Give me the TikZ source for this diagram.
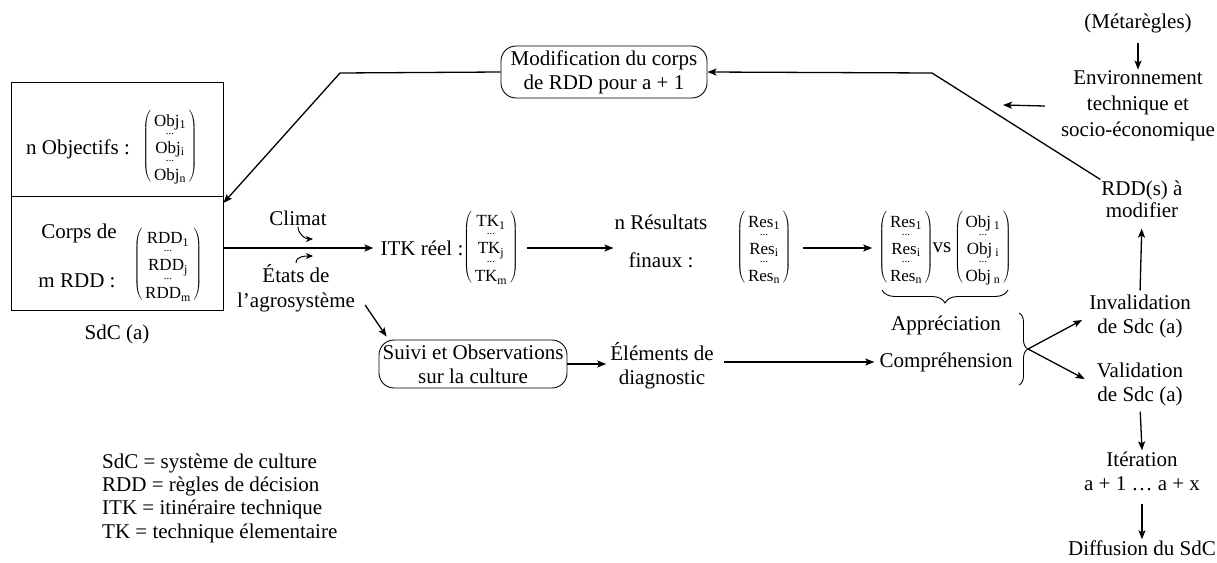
\documentclass[tikz,border=0pt]{standalone}
\usepackage{fontspec}
\setmainfont{Liberation Serif}
\usetikzlibrary{arrows.meta,decorations.pathreplacing,positioning,calc}

\newcommand{\txtrow}[2]{\rule[-4pt]{0pt}{20pt}#1\textsubscript{#2}}
\newcommand{\dotrow}{\rule[-3pt]{0pt}{7pt}{\fontsize{11}{11}\selectfont ...}}
\newcommand{\colvec}[4]{$\left(\hbox{\fontsize{17}{14}\selectfont\renewcommand\arraystretch{0}%
  \begin{tabular}{@{\,}c@{\,}}\txtrow{#1}{#2}\\\dotrow\\\txtrow{#1}{#3}\\\dotrow\\\txtrow{#1}{#4}\end{tabular}}\right)$}

\begin{document}
\begin{tikzpicture}[x=1pt,y=-1pt,
  every node/.style={font=\fontsize{21}{24}\selectfont, inner sep=1pt, align=center},
  arr/.style={-{Stealth[length=9pt,width=7pt,inset=2pt]}, line width=1.3pt},
  arrsmall/.style={-{Stealth[length=7pt,width=6pt,inset=2pt]}, line width=1pt},
  roundbox/.style={draw, rounded corners=15pt, line width=0.9pt},
  bracket/.style={decorate, line width=0.9pt}]
\useasboundingbox (0,0) rectangle (1217,562);

% SdC block
\node[draw, line width=0.9pt, minimum width=212pt, minimum height=228pt] (sdc) at (117,196) {};
\draw[line width=0.9pt] (sdc.west) -- (sdc.east);
\node (objlab) at (78,149) {n Objectifs :};
\node (objvec) at (170,147) {\colvec{Obj}{1}{i}{n}};
\node (corps) at (79,233) {Corps de};
\node (mrdd) at (77,281) {m RDD :};
\node (rddvec) at (168,265) {\colvec{RDD}{1}{j}{m}};
\node (sdclab) at (117,334) {SdC (a)};

% top loop
\node[roundbox, minimum width=206pt, minimum height=52pt] (modif) at (604,72) {Modification du corps\\de RDD pour a + 1};
\node (meta) at (1138,23) {(Métarègles)};
\node[font=\fontsize{21}{26}\selectfont] (env) at (1138,106) {Environnement\\technique et\\socio-économique};
\node[font=\fontsize{21}{22}\selectfont] (rddmod) at (1142,199) {RDD(s) à\\modifier};
\coordinate (envto) at (1003,105);
\coordinate (bendr) at (932,73);
\coordinate (bendl) at (340,73);

% middle row
\node (climat) at (298,218) {Climat};
\node[font=\fontsize{21}{25}\selectfont] (etats) at (296,288) {États de\\l’agrosystème};
\node (itk) at (422,248) {ITK réel :};
\node (itkvec) at (491,248) {\colvec{TK}{1}{j}{m}};
\node (resl) at (661,241) {n Résultats\\[14pt]finaux :};
\node (resvec) at (764,248) {\colvec{Res}{1}{i}{n}};
\node (cmpres) at (906,248) {\colvec{Res}{1}{i}{n}};
\node (vs) at (942,248) {vs};
\node (cmpobj) at (983,248) {\colvec{Obj\,}{1}{i}{n}};
\coordinate (climtip) at (313,239);
\coordinate (etatip) at (313,256);

% lower row
\node[roundbox, minimum width=188pt, minimum height=48pt] (suivi) at (473,364) {Suivi et Observations\\sur la culture};
\node (elem) at (662,366) {Éléments de\\diagnostic};
\node (apprec) at (946,325) {Appréciation};
\node (compr) at (946,362) {Compréhension};
\coordinate (bracetip) at (1028,349);

% right column
\node (invalid) at (1140,316) {Invalidation\\de Sdc (a)};
\node (valid) at (1140,384) {Validation\\de Sdc (a)};
\node (iter) at (1142,471) {Itération\\a + 1 … a + x};
\node (diff) at (1142,548) {Diffusion du SdC};

% legend
\node[anchor=west, align=left, font=\fontsize{21}{23.3}\selectfont] (legend) at (101,498)
  {SdC = système de culture\\RDD = règles de décision\\ITK = itinéraire technique\\TK = technique élementaire};

% braces
\draw[bracket, decoration={brace, mirror, amplitude=13pt}] (882,290) -- (1008,290);
\draw[bracket, decoration={brace, amplitude=9pt}] (1019,313) -- (1019,385);

% connectors
\draw[arr, shorten <=9pt] (meta) -- (env);
\draw[arr] ([xshift=-15pt]env.west) -- (envto);
\draw[arr] (rddmod.north west) -- (bendr) -- (modif.east);
\draw[arr] (modif.west) -- (bendl) -- ([yshift=-7pt]sdc.east);
\draw[arr, shorten >=6pt] (sdc.east |- itk.west) -- (itk.west);
\draw[arrsmall] (climat.south) to[out=-90, in=180] (climtip);
\draw[arrsmall] (etats.north) to[out=90, in=180] (etatip);
\draw[arr, shorten <=7pt] (itkvec.east) -- (resl.west |- itkvec.east);
\draw[arr, shorten <=10pt, shorten >=5pt] (resvec.east) -- (cmpres.west);
\draw[arr] ([shift={(9pt,8pt)}]etats.south east) -- ([shift={(8pt,3pt)}]suivi.north west);
\draw[arr] (suivi.east) -- ([xshift=-3pt]elem.west |- suivi.east);
\draw[arr, shorten <=9pt, shorten >=4pt] (elem.east |- compr.west) -- (compr.west);
\draw[arr] (bracetip) -- ([shift={(-6pt,-4pt)}]invalid.west);
\draw[arr] (bracetip) -- ([shift={(-11pt,5pt)}]valid.west);
\draw[arr, shorten <=3pt, shorten >=10pt] (invalid.north) -- (rddmod.south);
\draw[arr, shorten <=5pt] (valid.south) -- (iter.north);
\draw[arr, shorten <=12pt] (iter.south) -- (diff.north);
\end{tikzpicture}
\end{document}
